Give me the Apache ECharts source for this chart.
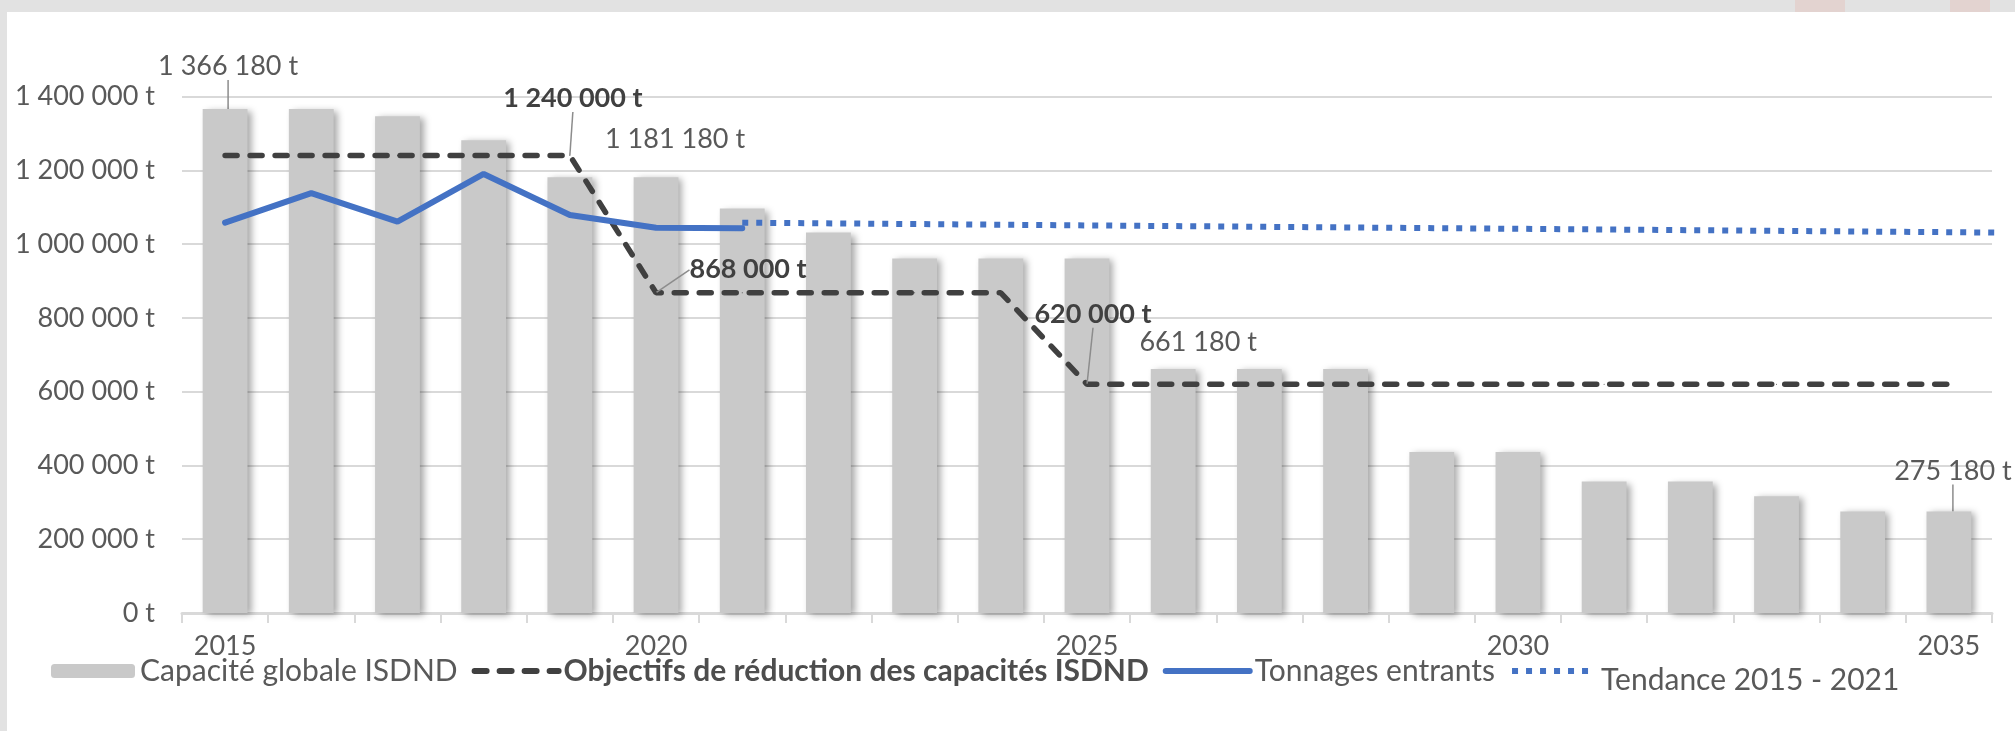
<!DOCTYPE html>
<html>
<head>
<meta charset="utf-8">
<script src="https://cdn.jsdelivr.net/npm/echarts@6/dist/echarts.min.js"></script>
<style>
    html, body { margin: 0; padding: 0; background: #e2e2e2; }
    #chart { width: 2015px; height: 731px; }
</style>
</head>
<body>
<div id="chart"></div>
<script>
// données
var annees = ['2015', '2016', '2017', '2018', '2019', '2020', '2021', '2022', '2023', '2024', '2025',
    '2026', '2027', '2028', '2029', '2030', '2031', '2032', '2033', '2034', '2035'];
var capacite = [1366180, 1366180, 1346180, 1281180, 1181180, 1181180, 1096180, 1031180, 961180, 961180, 961180,
    661180, 661180, 661180, 436180, 436180, 356180, 356180, 316180, 275180, 275180];
var objectifs = [1240000, 1240000, 1240000, 1240000, 1240000, 868000, 868000, 868000, 868000, 868000, 620000,
    620000, 620000, 620000, 620000, 620000, 620000, 620000, 620000, 620000, 620000];
var tonnages = [1058000, 1138000, 1061000, 1190000, 1079000, 1044000, 1043000];
var tendanceX = [2021, 2035.63];
var tendanceY = [1058000, 1031000];
var yTicks = [0, 200000, 400000, 600000, 800000, 1000000, 1200000, 1400000];

// étiquettes affichées (index -> décalage x, décalage y, trait de rappel)
var capLabels = { 0: [3, -24, true], 5: [19, -19, false], 11: [25, -8, false], 20: [4, -22, true] };
var objLabels = { 4: [3, -38, true], 5: [92, -4, true], 10: [6, -51, true] };

var FONT = 'Lato';
var GRIS = '#595959';

function fmt(v) {
    return String(Math.round(v)).replace(/\B(?=(\d{3})+(?!\d))/g, ' ') + ' t';
}

var myChart = echarts.init(document.querySelector('#chart'));

var capData = capacite.map(function (v, i) {
    var l = capLabels[i];
    return {
        value: v,
        label: { show: !!l },
        labelLine: { show: !!(l && l[2]) }
    };
});
var objData = objectifs.map(function (v, i) {
    var l = objLabels[i];
    return {
        value: v,
        label: { show: !!l },
        labelLine: { show: !!(l && l[2]) }
    };
});
var tendData = tendanceX.map(function (x, i) { return [x, tendanceY[i]]; });

var option = {
    backgroundColor: '#e2e2e2',
    animation: false,
    textStyle: { fontFamily: FONT },
    graphic: [
        { type: 'rect', z: -10, shape: { x: 7, y: 12, width: 2010, height: 720 }, style: { fill: '#ffffff' } },
        { type: 'rect', z: -10, shape: { x: 1795, y: 0, width: 50, height: 12 }, style: { fill: '#e5c9c4', opacity: 0.6 } },
        { type: 'rect', z: -10, shape: { x: 1950, y: 0, width: 40, height: 12 }, style: { fill: '#e5c9c4', opacity: 0.6 } }
    ],
    grid: {
        left: 182,
        right: 23,
        top: 96.5,
        bottom: 118
    },
    legend: {
        left: 46,
        top: 651,
        itemWidth: 84,
        itemHeight: 14,
        itemGap: 14,
        textStyle: {
            color: GRIS,
            fontSize: 30,
            fontFamily: FONT,
            rich: { bas: { fontSize: 30, color: GRIS, padding: [18, 0, 0, 0] } }
        },
        formatter: function (name) {
            return name.indexOf('Tendance') === 0 ? '{bas|' + name + '}' : name;
        },
        data: [
            { name: 'Capacité globale ISDND' },
            {
                name: 'Objectifs de réduction des capacités ISDND',
                itemStyle: { opacity: 0 },
                lineStyle: { width: 6 },
                textStyle: { fontWeight: 'bold', color: '#4d4d4d' }
            },
            { name: 'Tonnages entrants', itemStyle: { opacity: 0 }, lineStyle: { width: 6 } },
            { name: 'Tendance 2015 - 2021', itemStyle: { opacity: 0 }, lineStyle: { width: 6 } }
        ]
    },
    xAxis: [{
        type: 'category',
        data: annees,
        boundaryGap: true,
        axisLine: { lineStyle: { color: '#d9d9d9', width: 3 } },
        axisTick: { show: true, interval: 0, length: 10, lineStyle: { color: '#d9d9d9', width: 2 } },
        axisLabel: { interval: 4, color: GRIS, fontSize: 27, margin: 20 }
    }, {
        type: 'value',
        min: 2014.5,
        max: 2035.5,
        show: false
    }],
    yAxis: {
        type: 'value',
        min: 0,
        max: yTicks[yTicks.length - 1],
        interval: yTicks[1] - yTicks[0],
        axisLine: { show: false },
        axisTick: { show: false },
        splitLine: { lineStyle: { color: '#d9d9d9', width: 2 } },
        axisLabel: {
            color: GRIS,
            fontSize: 27,
            margin: 27,
            formatter: fmt
        }
    },
    series: [{
        name: 'Capacité globale ISDND',
        type: 'bar',
        data: capData,
        barWidth: '52%',
        itemStyle: {
            color: '#c9c9c9',
            shadowColor: 'rgba(0, 0, 0, 0.35)',
            shadowBlur: 7,
            shadowOffsetX: 4,
            shadowOffsetY: 2
        },
        label: {
            position: 'top',
            color: GRIS,
            fontSize: 27,
            formatter: function (p) { return fmt(p.value); }
        },
        labelLine: { lineStyle: { color: '#8c8c8c', width: 1.5 } },
        labelLayout: function (p) {
            var l = capLabels[p.dataIndex];
            return l ? { dx: l[0], dy: l[1] } : {};
        },
        z: 1
    }, {
        name: 'Objectifs de réduction des capacités ISDND',
        type: 'line',
        data: objData,
        symbol: 'circle',
        symbolSize: 1,
        showSymbol: true,
        lineStyle: { color: '#404040', width: 5.5, type: [12, 13], cap: 'round' },
        itemStyle: { color: '#404040' },
        label: {
            position: 'top',
            color: '#404040',
            fontWeight: 'bold',
            fontSize: 27,
            formatter: function (p) { return fmt(p.value); }
        },
        labelLine: { lineStyle: { color: '#8c8c8c', width: 1.5 } },
        labelLayout: function (p) {
            var l = objLabels[p.dataIndex];
            return l ? { dx: l[0], dy: l[1] } : {};
        },
        z: 3
    }, {
        name: 'Tonnages entrants',
        type: 'line',
        data: tonnages,
        symbol: 'none',
        lineStyle: { color: '#4472c4', width: 6, cap: 'round' },
        itemStyle: { color: '#4472c4' },
        z: 4
    }, {
        name: 'Tendance 2015 - 2021',
        type: 'line',
        xAxisIndex: 1,
        data: tendData,
        symbol: 'none',
        clip: false,
        lineStyle: { color: '#4472c4', width: 6, type: [6, 8], cap: 'butt' },
        itemStyle: { color: '#4472c4' },
        z: 4
    }]
};
myChart.setOption(option);
</script>
</body>
</html>
